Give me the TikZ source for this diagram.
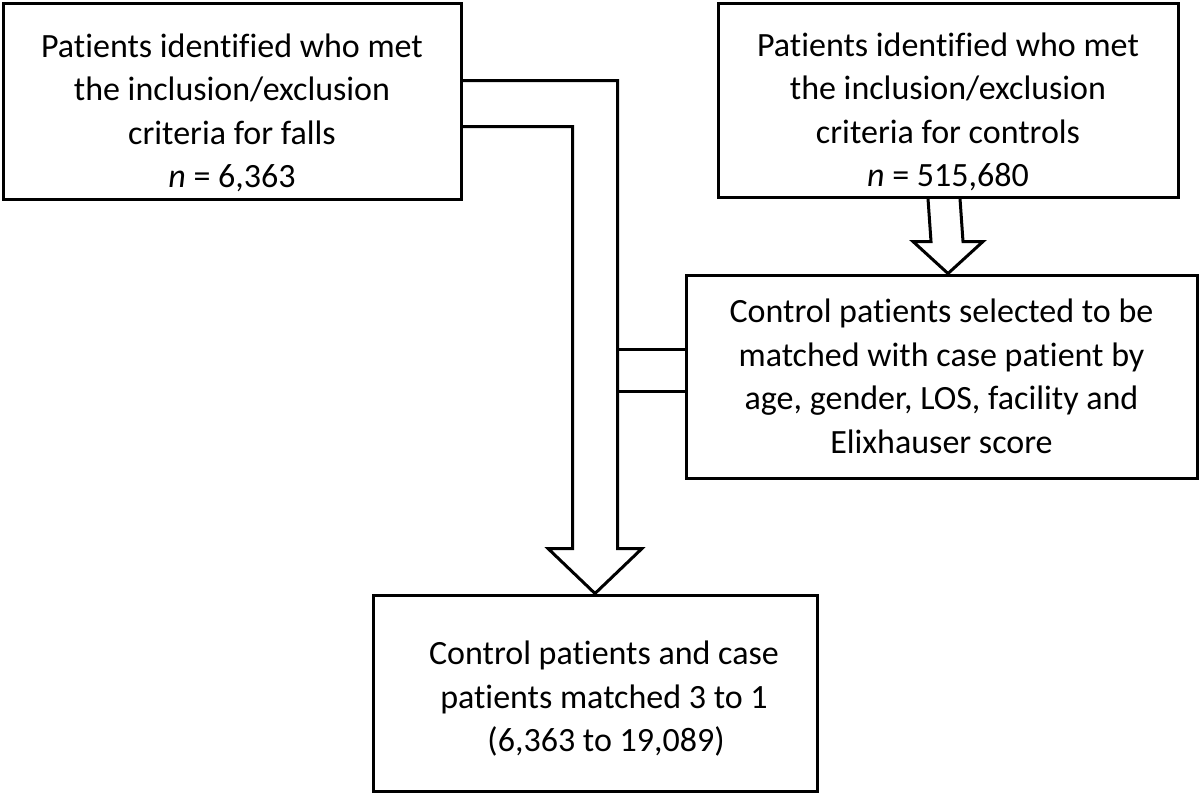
\documentclass[tikz,border=0pt]{standalone}
\usepackage{fontspec}
\setmainfont{Carlito}[Ligatures=NoCommon]
\usetikzlibrary{calc}
\begin{document}
\begin{tikzpicture}[x=1pt,y=-1pt,
  box/.style={draw, line width=3pt, inner sep=0pt},
  txt/.style={align=center, inner sep=0pt, font=\fontsize{34}{43.5}\selectfont},
  conn/.style={line width=3pt, line join=miter}]
\useasboundingbox (0,0) rectangle (1200,793);
\node[box, minimum width=458pt, minimum height=196pt] (A) at (232,101) {};
\node[txt] (At) at ($(A.center)+(0,12)$)
  {Patients identified who met\\the inclusion/exclusion\\criteria for falls\\\textit{n} = 6,363};
\node[box, minimum width=460pt, minimum height=194pt] (B) at (948,100) {};
\node[txt] (Bx) at ($(B.center)+(0,12)$)
  {Patients identified who met\\the inclusion/exclusion\\criteria for controls\\\textit{n} = 515,680};
\node[box, minimum width=511pt, minimum height=203pt] (C) at (941.5,376.5) {};
\node[txt] (Cx) at ($(C.center)+(0,0)$)
  {Control patients selected to be\\matched with case patient by\\age, gender, LOS, facility and\\Elixhauser score};
\node[box, minimum width=444pt, minimum height=196pt] (D) at (595,693) {};
\node[txt] (Dx) at ($(D.center)+(9,6)$)
  {Control patients and case\\patients matched 3 to 1\\\hspace*{4pt}(6,363 to 19,089)};
% hollow arrow B -> C
\coordinate (Bt) at (B.south |- C.north);
\draw[conn] ($(B.south)+(-20,0)$) -- ($(Bt)+(-17,-32)$) -- ($(Bt)+(-35,-32)$) -- (Bt)
  -- ($(Bt)+(35,-32)$) -- ($(Bt)+(15,-32)$) -- ($(B.south)+(12,0)$);
% hollow arrow A -> D
\coordinate (R) at ($(D.north)+(22.5,0)$);
\draw[conn] ($(A.north east)+(0,79)$) -| ($(D.north)+(22.5,-45)$) -- ($(D.north)+(47,-45)$)
  -- (D.north) -- ($(D.north)+(-47,-45)$) -- ($(D.north)+(-22.5,-45)$) |- ($(A.north east)+(0,125)$);
% branches from C
\coordinate (c1) at ($(C.north west)+(0,76)$);
\coordinate (c2) at ($(C.north west)+(0,118)$);
\draw[conn] (c1) -- (c1 -| R);
\draw[conn] (c2) -- (c2 -| R);
\end{tikzpicture}
\end{document}
